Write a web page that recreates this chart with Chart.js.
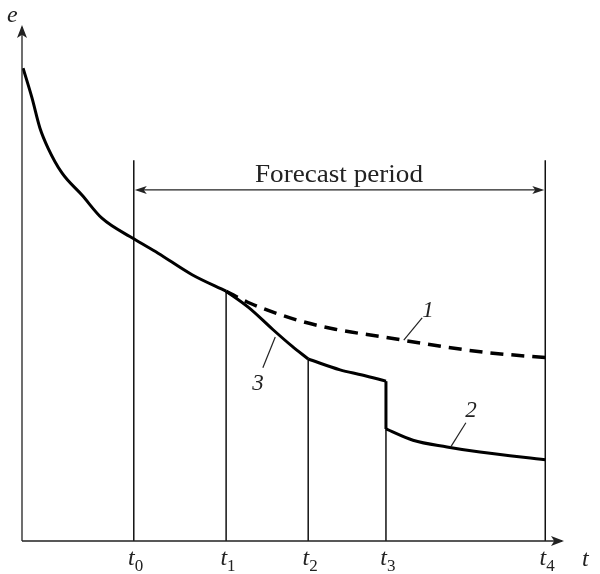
<!DOCTYPE html>
<html>
<head>
<meta charset="utf-8">
<script src="https://cdn.jsdelivr.net/npm/chart.js@4.4.1/dist/chart.umd.min.js"></script>
<style>
  body { margin: 0; background: #fff; font-family: "Liberation Serif", serif; }
  #wrap { width: 600px; height: 574px; }
  .pre { position: absolute; left: -1000px; font-family: "Liberation Serif"; }
</style>
</head>
<body>
<span class="pre">Forecast <i>t</i></span>
<div id="wrap"><canvas id="chart" width="600" height="574"></canvas></div>
<script>
// time marks on the t axis (t0..t4) and their subscripts
const tickSubs = ["0", "1", "2", "3", "4"];
const tickT = [20.7, 37.8, 53.0, 67.4, 96.9];

// observed curve up to t1
const baseT = [0.2, 1.85, 3.3, 4.8, 7.4, 11.1, 14.8, 20.7, 25.2, 31.5, 37.8];
const baseE = [92.0, 86.2, 80.4, 76.5, 71.6, 67.3, 62.8, 58.8, 56.0, 51.8, 48.6];

// curve 3 (t1 -> t2)
const c3T = [37.8, 42.0, 46.5, 50.0, 53.0];
const c3E = [48.6, 45.4, 41.1, 37.9, 35.4];

// curve 2 (t2 -> t3, drop, t3 -> t4)
const c2aT = [53.0, 58.9, 63.0, 67.4];
const c2aE = [35.4, 33.3, 32.3, 31.1];
const c2bT = [67.4, 72.4, 78.7, 84.8, 96.9];
const c2bE = [21.8, 19.6, 18.3, 17.3, 15.8];

// curve 1 dashed (no action)
const c1T = [37.8, 41.7, 50.9, 58.0, 66.9, 78.7, 86.7, 98.1];
const c1E = [48.6, 46.5, 43.0, 41.2, 39.7, 37.7, 36.6, 35.6];

// tops of the vertical lines at t0..t4
const vTop = [74.1, 48.6, 35.4, 31.1, 74.1];
const forecastE = 68.3;

const SERIF = "'Liberation Serif', 'Times New Roman', serif";

function pts(xs, ys) { return xs.map((x, i) => ({ x: x, y: ys[i] })); }

const datasets = [
    { data: pts(baseT, baseE), borderColor: "#000", borderWidth: 3, cubicInterpolationMode: "monotone" },
    { data: pts(c3T, c3E), borderColor: "#000", borderWidth: 3, cubicInterpolationMode: "monotone" },
    { data: pts(c2aT, c2aE), borderColor: "#000", borderWidth: 3, cubicInterpolationMode: "monotone" },
    { data: [{ x: 67.4, y: 31.1 }, { x: 67.4, y: 21.8 }], borderColor: "#000", borderWidth: 3 },
    { data: pts(c2bT, c2bE), borderColor: "#000", borderWidth: 3, cubicInterpolationMode: "monotone" },
    { data: pts(c1T, c1E), borderColor: "#000", borderWidth: 3.5, borderDash: [13, 8], cubicInterpolationMode: "monotone" }
];
tickT.forEach((t, i) => {
    datasets.push({ data: [{ x: t, y: 0 }, { x: t, y: vTop[i] }], borderColor: "#111", borderWidth: 1.5 });
});
datasets.forEach(d => { d.pointRadius = 0; d.fill = false; });

function arrowHead(ctx, x, y, dir, len, half) {
    ctx.save();
    ctx.translate(x, y);
    ctx.rotate(dir);
    ctx.beginPath();
    ctx.moveTo(0, 0);
    ctx.lineTo(-len, -half);
    ctx.lineTo(-len * 0.75, 0);
    ctx.lineTo(-len, half);
    ctx.closePath();
    ctx.fill();
    ctx.restore();
}

const decor = {
    id: "decor",
    afterDatasetsDraw(chart) {
        const ctx = chart.ctx;
        const xs = chart.scales.x, ys = chart.scales.y;
        const X = v => xs.getPixelForValue(v);
        const Y = v => ys.getPixelForValue(v);
        const x0 = X(0), y0 = Y(0);
        ctx.save();
        ctx.strokeStyle = "#222";
        ctx.fillStyle = "#222";
        ctx.lineWidth = 1.3;
        // axes
        ctx.beginPath();
        ctx.moveTo(x0, y0); ctx.lineTo(x0, Y(100));
        ctx.moveTo(x0, y0); ctx.lineTo(X(100), y0);
        ctx.stroke();
        arrowHead(ctx, x0, Y(100) - 2, -Math.PI / 2, 13, 5);
        arrowHead(ctx, X(100) + 2, y0, 0, 13, 5);

        // forecast period arrow
        const fy = Y(forecastE);
        ctx.lineWidth = 1.2;
        ctx.beginPath();
        ctx.moveTo(X(tickT[0]) + 4, fy); ctx.lineTo(X(tickT[4]) - 4, fy);
        ctx.stroke();
        arrowHead(ctx, X(tickT[0]) + 1, fy, Math.PI, 12, 4);
        arrowHead(ctx, X(tickT[4]) - 1, fy, 0, 12, 4);
        ctx.font = "26px " + SERIF;
        ctx.textAlign = "left";
        ctx.textBaseline = "alphabetic";
        const label = "Forecast period";
        const w = ctx.measureText(label).width;
        ctx.save();
        ctx.translate(255, fy - 8);
        ctx.scale(168 / w, 1);
        ctx.fillText(label, 0, 0);
        ctx.restore();

        // axis names
        ctx.font = "italic 24px " + SERIF;
        ctx.textAlign = "left";
        ctx.fillText("e", 7, 22);
        ctx.fillText("t", 582, y0 + 25);

        // tick labels t0..t4
        tickT.forEach((t, i) => {
            const px = X(t);
            ctx.font = "italic 24px " + SERIF;
            ctx.textAlign = "right";
            ctx.fillText("t", px + 1, y0 + 24);
            ctx.font = "17px " + SERIF;
            ctx.textAlign = "left";
            ctx.fillText(tickSubs[i], px + 1, y0 + 30);
        });

        // curve labels with leader lines
        ctx.lineWidth = 1.2;
        const leaders = [
            { t: "1", from: [74.1, 43.4], to: [70.7, 39.1], lx: 428, ly: 317 },
            { t: "2", from: [82.2, 23.0], to: [79.4, 18.3], lx: 471, ly: 417 },
            { t: "3", from: [46.9, 39.7], to: [44.6, 33.7], lx: 258, ly: 390 }
        ];
        ctx.font = "italic 23px " + SERIF;
        ctx.textAlign = "center";
        leaders.forEach(l => {
            ctx.beginPath();
            ctx.moveTo(X(l.from[0]), Y(l.from[1]));
            ctx.lineTo(X(l.to[0]), Y(l.to[1]));
            ctx.stroke();
            ctx.fillText(l.t, l.lx, l.ly);
        });
        ctx.restore();
    }
};

function drawChart() {
    new Chart(document.getElementById("chart"), {
        type: "line",
        data: { datasets: datasets },
        options: {
            responsive: false,
            animation: false,
            devicePixelRatio: 1,
            layout: { padding: { left: 22, right: 38, top: 27, bottom: 33 } },
            plugins: { legend: { display: false }, tooltip: { enabled: false } },
            scales: {
                x: { type: "linear", min: 0, max: 100, display: false },
                y: { type: "linear", min: 0, max: 100, display: false }
            }
        },
        plugins: [decor]
    });
}

Promise.all([
    document.fonts.load("24px 'Liberation Serif'"),
    document.fonts.load("italic 24px 'Liberation Serif'")
]).then(drawChart, drawChart);
</script>
</body>
</html>
